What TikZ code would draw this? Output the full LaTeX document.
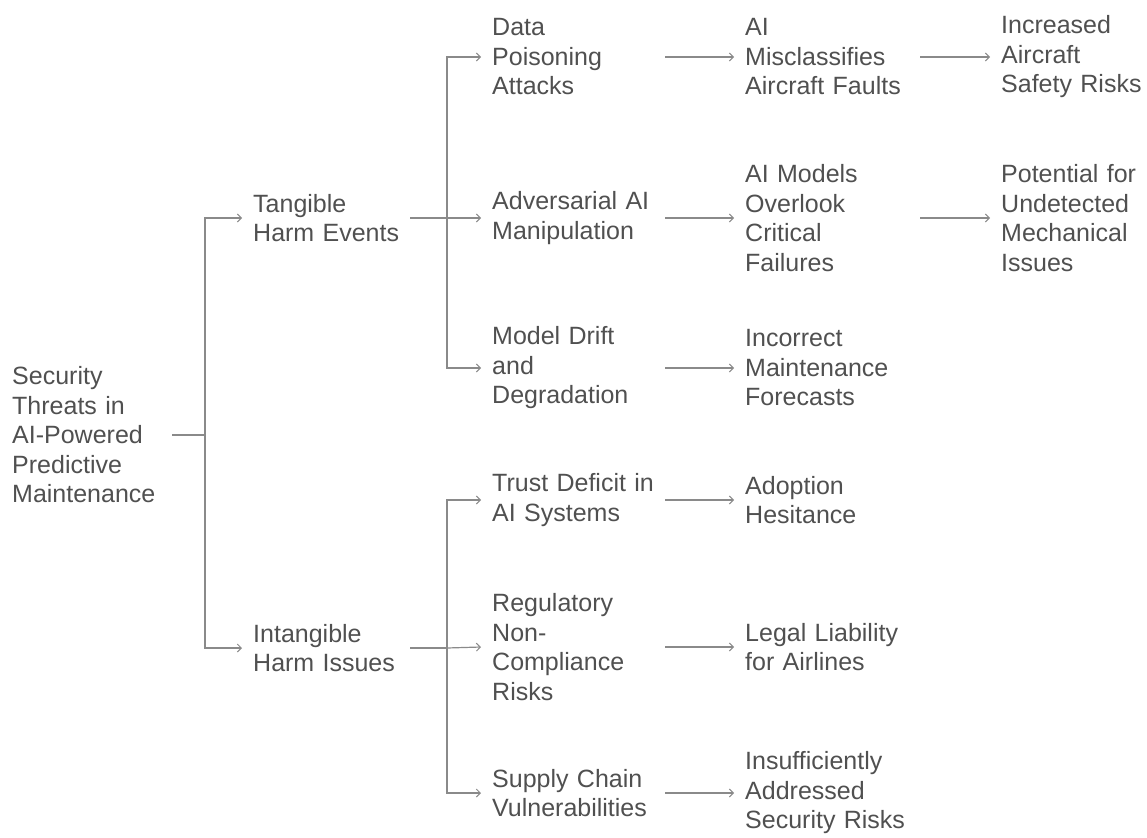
\documentclass[tikz,border=0pt]{standalone}
\usepackage{fontspec}
\setmainfont{Liberation Sans}
\usetikzlibrary{arrows.meta}
\definecolor{txtgray}{HTML}{505050}
\definecolor{linegray}{HTML}{8A8A8A}
\begin{document}
\begin{tikzpicture}[x=1pt,y=1pt,
  lbl/.style={anchor=west, align=left, inner xsep=11pt, inner ysep=0pt, text=txtgray,
    font=\fontsize{25}{29.5}\selectfont},
  w0/.style={lbl, text width=149pt},
  w1/.style={lbl, text width=146pt},
  w2/.style={lbl, text width=170pt},
  w3/.style={lbl, text width=164pt},
  w4/.style={lbl, text width=150pt},
  conn/.style={draw=linegray, line width=1.2pt},
  arr/.style={conn, -{Straight Barb[length=4pt,width=8pt,line width=1pt]}}
]
\useasboundingbox (0,0) rectangle (1147,-837);
% root
\node[w0] (root) at (1,-435) {Security\\Threats in\\AI-Powered\\Predictive\\Maintenance};
% level 1
\node[w1] (tang) at (242,-218) {Tangible\\Harm Events};
\node[w1] (intang) at (242,-648) {Intangible\\Harm Issues};
% level 2
\node[w2] (dp) at (481,-57) {Data\\Poisoning\\Attacks};
\node[w2] (adv) at (481,-218) {Adversarial AI\\Manipulation};
\node[w2] (md) at (481,-368) {Model Drift\\and\\Degradation};
\node[w2] (trust) at (481,-500) {Trust Deficit in\\AI Systems};
\node[w2] (reg) at (481,-647) {Regulatory\\Non-\\Compliance\\Risks};
\node[w2] (sup) at (481,-793) {Supply Chain\\Vulnerabilities};
% level 3
\node[w3] (misc) at (734,-57) {AI\\Misclassifies\\Aircraft Faults};
\node[w3] (over) at (734,-218) {AI Models\\Overlook\\Critical\\Failures};
\node[w3] (inc) at (734,-368) {Incorrect\\Maintenance\\Forecasts};
\node[w3] (adop) at (734,-500) {Adoption\\Hesitance};
\node[w3] (legal) at (734,-647) {Legal Liability\\for Airlines};
\node[w3] (insuf) at (734,-793) {Insufficiently\\Addressed\\Security Risks};
% level 4
\node[w4] (incr) at (990,-57) {Increased\\Aircraft\\Safety Risks};
\node[w4] (pot) at (990,-218) {Potential for\\Undetected\\Mechanical\\Issues};
% junctions
\coordinate (j0) at (205,-435);
\coordinate (j1) at (447,-218);
\coordinate (j2) at (447,-648);
% connectors
\draw[conn] (root.east) -- (j0);
\draw[arr] (j0) |- (tang.west);
\draw[arr] (j0) |- (intang.west);
\draw[conn] (tang.east) -- (j1);
\draw[arr] (j1) |- (dp.west);
\draw[arr] (j1) -- (adv.west);
\draw[arr] (j1) |- (md.west);
\draw[conn] (intang.east) -- (j2);
\draw[arr] (j2) |- (trust.west);
\draw[arr] (j2) -- (reg.west);
\draw[arr] (j2) |- (sup.west);
\draw[arr] ([xshift=-8pt]dp.east) -- (misc.west);
\draw[arr] ([xshift=-8pt]adv.east) -- (over.west);
\draw[arr] ([xshift=-8pt]md.east) -- (inc.west);
\draw[arr] ([xshift=-8pt]trust.east) -- (adop.west);
\draw[arr] ([xshift=-8pt]reg.east) -- (legal.west);
\draw[arr] ([xshift=-8pt]sup.east) -- (insuf.west);
\draw[arr] (misc.east) -- (incr.west);
\draw[arr] (over.east) -- (pot.west);
\end{tikzpicture}
\end{document}
